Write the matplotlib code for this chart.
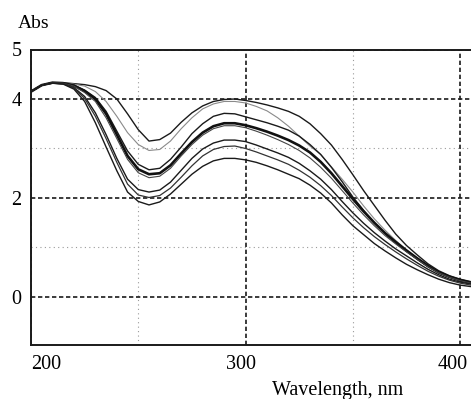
import matplotlib
matplotlib.use("Agg")
import matplotlib.pyplot as plt
import matplotlib.transforms as mtransforms

# ── Data ──────────────────────────────────────────────────────────────────────
wavelength = [200, 205, 210, 215, 220, 225, 230, 235, 240, 245, 250, 255, 260,
              265, 270, 275, 280, 285, 290, 295, 300, 305, 310, 315, 320, 325,
              330, 335, 340, 345, 350, 355, 360, 365, 370, 375, 380, 385, 390,
              395, 400, 405]

abs_1 = [4.15, 4.28, 4.33, 4.33, 4.31, 4.29, 4.25, 4.17, 4.00, 3.70, 3.38, 3.15,
         3.18, 3.31, 3.53, 3.72, 3.86, 3.95, 3.99, 4.00, 3.97, 3.93, 3.88, 3.82,
         3.75, 3.65, 3.50, 3.30, 3.07, 2.78, 2.47, 2.15, 1.85, 1.55, 1.27, 1.04,
         0.85, 0.67, 0.53, 0.43, 0.36, 0.31]
abs_2 = [4.15, 4.28, 4.33, 4.33, 4.30, 4.26, 4.15, 3.95, 3.65, 3.32, 3.08, 2.96,
         2.98, 3.15, 3.40, 3.62, 3.80, 3.90, 3.95, 3.95, 3.92, 3.85, 3.76, 3.62,
         3.45, 3.25, 3.05, 2.88, 2.63, 2.38, 2.12, 1.84, 1.58, 1.35, 1.14, 0.95,
         0.78, 0.62, 0.49, 0.40, 0.33, 0.28]
abs_3 = [4.15, 4.28, 4.33, 4.32, 4.28, 4.18, 4.03, 3.75, 3.35, 2.95, 2.68, 2.57,
         2.60, 2.78, 3.03, 3.30, 3.50, 3.65, 3.71, 3.70, 3.64, 3.58, 3.52, 3.45,
         3.37, 3.25, 3.08, 2.88, 2.62, 2.33, 2.02, 1.75, 1.50, 1.28, 1.09, 0.92,
         0.76, 0.61, 0.49, 0.40, 0.33, 0.28]
abs_4 = [4.15, 4.28, 4.33, 4.32, 4.27, 4.16, 4.00, 3.70, 3.28, 2.85, 2.58, 2.48,
         2.50, 2.66, 2.90, 3.13, 3.32, 3.45, 3.51, 3.51, 3.47, 3.41, 3.34, 3.26,
         3.17, 3.06, 2.92, 2.73, 2.50, 2.24, 1.98, 1.73, 1.50, 1.29, 1.11, 0.94,
         0.78, 0.63, 0.50, 0.41, 0.34, 0.29]
abs_5 = [4.15, 4.28, 4.33, 4.32, 4.26, 4.13, 3.95, 3.62, 3.20, 2.78, 2.51, 2.41,
         2.44, 2.60, 2.85, 3.08, 3.27, 3.40, 3.46, 3.46, 3.42, 3.35, 3.27, 3.18,
         3.08, 2.96, 2.81, 2.62, 2.40, 2.15, 1.90, 1.66, 1.44, 1.24, 1.07, 0.91,
         0.76, 0.61, 0.49, 0.40, 0.33, 0.28]
abs_6 = [4.15, 4.28, 4.32, 4.31, 4.23, 4.05, 3.72, 3.28, 2.80, 2.38, 2.17, 2.12,
         2.16, 2.32, 2.56, 2.80, 2.99, 3.11, 3.17, 3.17, 3.14, 3.07, 2.99, 2.91,
         2.82, 2.70, 2.55, 2.38, 2.17, 1.93, 1.70, 1.49, 1.30, 1.13, 0.97, 0.83,
         0.69, 0.56, 0.45, 0.36, 0.30, 0.26]
abs_7 = [4.15, 4.28, 4.32, 4.31, 4.22, 4.01, 3.65, 3.20, 2.72, 2.28, 2.06, 2.01,
         2.05, 2.20, 2.42, 2.65, 2.85, 2.98, 3.04, 3.05, 3.00, 2.93, 2.85, 2.77,
         2.68, 2.56, 2.42, 2.25, 2.05, 1.82, 1.60, 1.40, 1.22, 1.06, 0.91, 0.77,
         0.64, 0.52, 0.42, 0.34, 0.28, 0.24]
abs_8 = [4.15, 4.28, 4.32, 4.30, 4.20, 3.95, 3.52, 3.03, 2.55, 2.12, 1.93, 1.86,
         1.92, 2.08, 2.28, 2.48, 2.64, 2.75, 2.80, 2.80, 2.77, 2.72, 2.65, 2.57,
         2.48, 2.39, 2.26, 2.10, 1.90, 1.66, 1.44, 1.26, 1.08, 0.93, 0.79, 0.66,
         0.55, 0.45, 0.36, 0.29, 0.24, 0.21]

spectra = [abs_1, abs_2, abs_3, abs_4, abs_5, abs_6, abs_7, abs_8]
line_colors = ["#1a1a1a", "#8a8a8a", "#1a1a1a", "#111111",
               "#444444", "#1a1a1a", "#333333", "#1a1a1a"]
line_widths = [1.0, 0.8, 1.0, 1.9, 0.8, 1.0, 0.9, 1.0]

x_major = [200, 300, 400]
x_minor = [250, 350]
y_major = [0, 2, 4, 5]
y_minor = [1, 3]

# ── Figure ────────────────────────────────────────────────────────────────────
plt.rcParams["font.family"] = ["Liberation Serif", "DejaVu Serif"]

fig = plt.figure(figsize=(4.71, 3.99), dpi=100)
ax = fig.add_axes([31 / 471, 54 / 399, 450.6 / 471, 295.5 / 399])
ax.set_xlim(200, 410)
ax.set_ylim(-0.97, 5)

for vals, c, lw in zip(spectra, line_colors, line_widths):
    ax.plot(wavelength, vals, color=c, lw=lw, zorder=3)

ax.set_xticks(x_major)
ax.set_xticks(x_minor, minor=True)
ax.set_yticks(y_major)
ax.set_yticks(y_minor, minor=True)
ax.set_yticklabels([str(v) for v in y_major], fontsize=14.5)
ax.set_xticklabels([str(v) for v in x_major], fontsize=14.5)
ax.tick_params(which="both", length=0)
ax.tick_params(axis="y", pad=7)
ax.tick_params(axis="x", pad=7)

# first label sits right of the corner, 300 a touch left, 400 kept inside the edge
xlabels = ax.get_xticklabels()
xlabels[0].set_horizontalalignment("left")
for lab, dx in [(xlabels[1], -5), (xlabels[2], -7)]:
    lab.set_transform(lab.get_transform() +
                      mtransforms.ScaledTranslation(dx / 100, 0, fig.dpi_scale_trans))

ax.grid(which="major", color="#1a1a1a", lw=1.2, ls=(0, (2.6, 1.6)), zorder=1)
ax.grid(which="minor", color="#9a9a9a", lw=0.8, ls=(0, (1, 3)), zorder=1)

for side in ["left", "bottom", "top"]:
    ax.spines[side].set_color("#1a1a1a")
    ax.spines[side].set_linewidth(1.4)
ax.spines["right"].set_visible(False)

fig.text(18 / 471, 1 - 23 / 399, "Abs", ha="left", va="center", fontsize=14)
fig.text(272 / 471, 1 - 390 / 399, "Wavelength, nm", ha="left", va="center",
         fontsize=14.5)

fig.savefig("out.png", dpi=100, facecolor="white")
plt.close(fig)
